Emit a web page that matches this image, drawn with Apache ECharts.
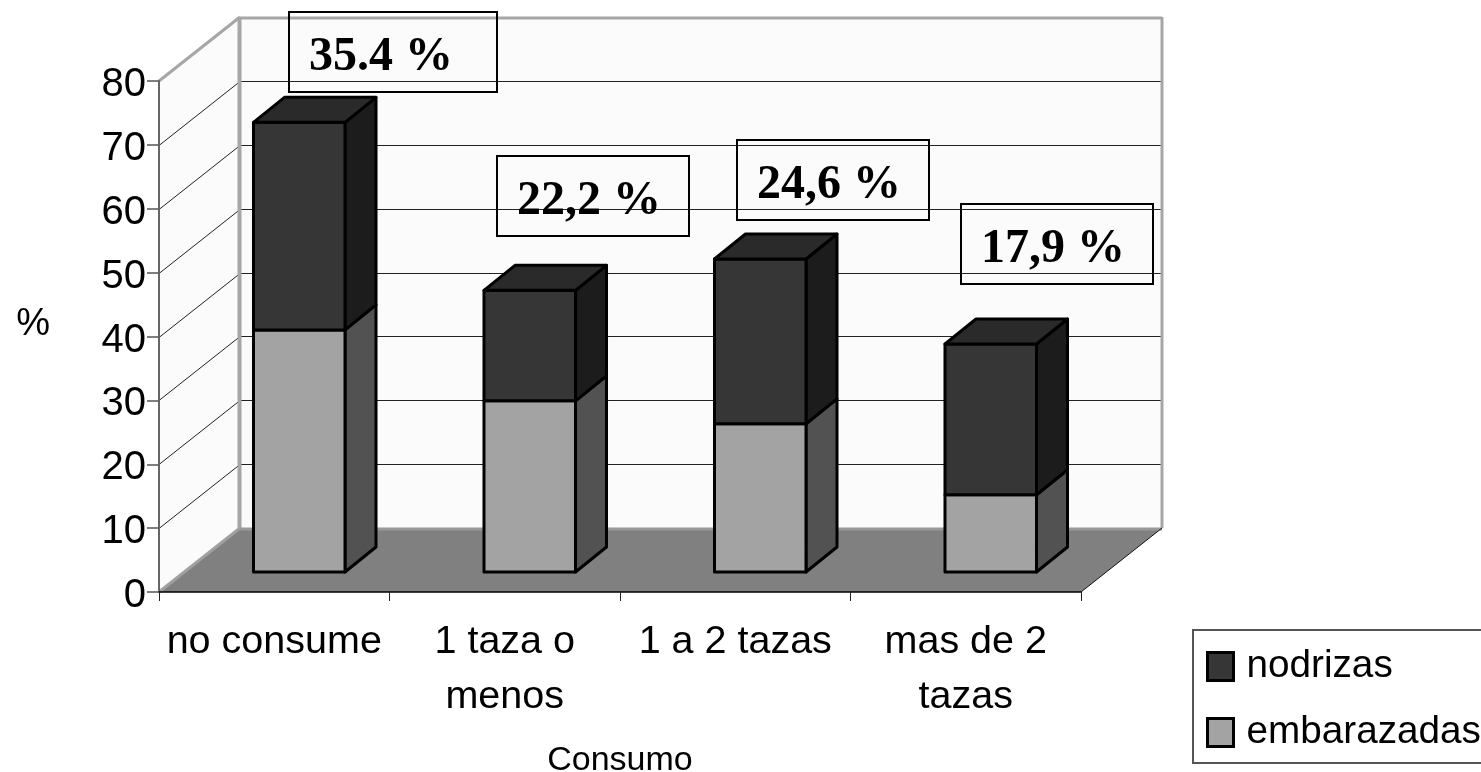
<!DOCTYPE html>
<html>
<head>
<meta charset="utf-8">
<style>html,body{margin:0;padding:0;background:#fff;overflow:hidden}#c{width:1481px;height:772px}</style>
<script src="https://cdn.jsdelivr.net/npm/echarts@6/dist/echarts.min.js"></script>
</head>
<body>
<div id="c"></div>
<script>
const categories = ['no consume', '1 taza o\nmenos', '1 a 2 tazas', 'mas de 2\ntazas'];
const embarazadas = [37.9, 26.8, 23.2, 12.1];
const nodrizas = [32.5, 17.3, 25.8, 23.6];
const yTicks = [0, 10, 20, 30, 40, 50, 60, 70, 80];
const percentLabels = ['35.4 %', '22,2 %', '24,6 %', '17,9 %'];

const SANS = '"Liberation Sans", Arial, sans-serif';
const SERIF = '"Liberation Serif", "Times New Roman", serif';
const WALL = [81, -64];       // depth of the chart box
const BAR_START = [25, -20];  // front face of the bars inside the box
const BAR_DEPTH = [31, -25];  // depth of each bar
const BOXES = [[289, 12, 208, 80], [497, 156, 192, 80], [737, 140, 192, 80], [961, 204, 192, 80]];

const chart = echarts.init(document.getElementById('c'), null, { renderer: 'canvas' });

function poly(points, style, z2) {
  return { type: 'polygon', shape: { points }, style, z2: z2 || 0, silent: true };
}
function seg(a, b, stroke, lineWidth, z2) {
  return { type: 'line', shape: { x1: a[0], y1: a[1], x2: b[0], y2: b[1] }, style: { stroke, lineWidth }, z2: z2 || 0, silent: true };
}

function renderWall(params, api) {
  const g = params.coordSys;
  const L = g.x, R = g.x + g.width, T = g.y, B = g.y + g.height;
  const dx = WALL[0], dy = WALL[1];
  return { type: 'group', children: [
    poly([[L + dx, T + dy], [R + dx, T + dy], [R + dx, B + dy], [L + dx, B + dy]], { fill: '#fbfbfb' }),
    poly([[L, T], [L + dx, T + dy], [L + dx, B + dy], [L, B]], { fill: '#fbfbfb' })
  ] };
}
function renderGridline(params, api) {
  const g = params.coordSys;
  const y = Math.round(api.coord([0, api.value(1)])[1]) + 0.5;
  const L = g.x, R = g.x + g.width;
  return { type: 'group', children: [
    seg([L, y], [L + WALL[0], y + WALL[1]], '#222', 1),
    seg([L + WALL[0], y + WALL[1]], [R + WALL[0], y + WALL[1]], '#222', 1)
  ] };
}
function renderFloor(params, api) {
  const g = params.coordSys;
  const L = g.x, R = g.x + g.width, T = g.y, B = g.y + g.height;
  const dx = WALL[0], dy = WALL[1];
  return { type: 'group', children: [
    poly([[L, B], [R, B], [R + dx, B + dy], [L + dx, B + dy]], { fill: '#808080' }),
    seg([L + dx, T + dy + 1], [R + dx, T + dy + 1], '#a6a6a6', 3),
    seg([R + dx, T + dy], [R + dx, B + dy], '#a6a6a6', 3),
    seg([L + dx - 0.5, T + dy], [L + dx - 0.5, B + dy], '#a6a6a6', 4),
    seg([L, T], [L + dx, T + dy], '#a6a6a6', 3),
    seg([L, B], [L + dx, B + dy], '#a0a0a0', 3),
    seg([L + dx, B + dy + 1], [R + dx, B + dy + 1], '#999999', 3),
    seg([R, B], [R + dx, B + dy], '#111', 1)
  ] };
}
function barRenderer(front, side, top, withTop) {
  return function (params, api) {
    const c0 = api.coord([api.value(0), api.value(1)]);
    const c1 = api.coord([api.value(0), api.value(2)]);
    const w = api.size([1, 0])[0] * 0.397;
    const x0 = c0[0] - w / 2 + BAR_START[0], x1 = x0 + w;
    const yb = c0[1] + BAR_START[1], yt = c1[1] + BAR_START[1];
    const dx = BAR_DEPTH[0], dy = BAR_DEPTH[1];
    const s = { stroke: '#000', lineWidth: 3, lineJoin: 'round' };
    const children = [
      poly([[x1, yb], [x1 + dx, yb + dy], [x1 + dx, yt + dy], [x1, yt]], Object.assign({ fill: side }, s)),
      poly([[x0, yb], [x1, yb], [x1, yt], [x0, yt]], Object.assign({ fill: front }, s))
    ];
    if (withTop) {
      children.push(poly([[x0, yt], [x1, yt], [x1 + dx, yt + dy], [x0 + dx, yt + dy]], Object.assign({ fill: top }, s)));
    }
    return { type: 'group', children };
  };
}

const graphicBoxes = [];
percentLabels.forEach((t, i) => {
  const b = BOXES[i];
  graphicBoxes.push({ type: 'rect', z: 50, silent: true, shape: { x: b[0], y: b[1], width: b[2], height: b[3] }, style: { fill: 'none', stroke: '#000', lineWidth: 2 } });
  graphicBoxes.push({ type: 'text', z: 51, silent: true, x: b[0] + 20, y: b[1] + 46, style: { text: t, fill: '#000', font: 'bold 48px ' + SERIF, textAlign: 'left', textVerticalAlign: 'middle' } });
});

chart.setOption({
  animation: false,
  backgroundColor: '#fff',
  grid: { left: 159, top: 81, width: 922, height: 511, outerBoundsMode: 'none' },
  legend: {
    orient: 'vertical', left: 1193, top: 630, height: 300,
    padding: [17, 13, 11, 13],
    itemWidth: 26, itemHeight: 28, itemGap: 27,
    backgroundColor: '#fff', borderColor: '#555', borderWidth: 2,
    textStyle: { fontFamily: SANS, fontSize: 38.7, color: '#000', padding: [0, 0, 0, 8], lineHeight: 28 },
    data: [
      { name: 'nodrizas', icon: 'rect', itemStyle: { color: '#363636', borderColor: '#000', borderWidth: 3 } },
      { name: 'embarazadas', icon: 'rect', itemStyle: { color: '#a3a3a3', borderColor: '#000', borderWidth: 3 } }
    ]
  },
  xAxis: {
    type: 'category', data: categories, z: 10,
    name: 'Consumo', nameLocation: 'middle', nameGap: 152,
    nameTextStyle: { fontFamily: SANS, fontSize: 34, color: '#000' },
    axisLine: { lineStyle: { color: '#000', width: 1.5 } },
    axisTick: { show: true, length: 9, lineStyle: { color: '#222', width: 1 } },
    axisLabel: { fontFamily: SANS, fontSize: 39.5, color: '#000', margin: 23, lineHeight: 55, interval: 0 },
    splitLine: { show: false }
  },
  yAxis: {
    type: 'value', min: 0, max: 80, interval: 10, z: 10,
    name: '%', nameLocation: 'middle', nameGap: 109, nameRotate: 0,
    nameTextStyle: { fontFamily: SANS, fontSize: 38, color: '#000', verticalAlign: 'bottom', lineHeight: 24 },
    axisLine: { show: true, lineStyle: { color: '#666', width: 2 } },
    axisTick: { show: true, length: 12, lineStyle: { color: '#555', width: 1.5 } },
    axisLabel: { fontFamily: SANS, fontSize: 40, color: '#000', margin: 13, verticalAlign: 'top', lineHeight: 8 },
    splitLine: { show: false }
  },
  series: [
    { type: 'custom', name: 'wall', z: 1, silent: true, renderItem: renderWall, data: [[0, 0]], encode: { x: 0, y: 1 } },
    { type: 'custom', name: 'gridlines', z: 2, silent: true, renderItem: renderGridline, data: yTicks.map(v => [0, v]), encode: { x: 0, y: 1 } },
    { type: 'custom', name: 'floor', z: 3, silent: true, renderItem: renderFloor, data: [[0, 0]], encode: { x: 0, y: 1 } },
    { type: 'custom', name: 'embarazadas', z: 4, silent: true,
      itemStyle: { color: '#a3a3a3' },
      renderItem: barRenderer('#a3a3a3', '#525252', '#808080', false),
      data: embarazadas.map((v, i) => [i, 0, v]), encode: { x: 0, y: [1, 2] } },
    { type: 'custom', name: 'nodrizas', z: 5, silent: true,
      itemStyle: { color: '#363636' },
      renderItem: barRenderer('#363636', '#1c1c1c', '#2a2a2a', true),
      data: nodrizas.map((v, i) => [i, embarazadas[i], embarazadas[i] + v]), encode: { x: 0, y: [1, 2] } }
  ],
  graphic: graphicBoxes
});
</script>
</body>
</html>
